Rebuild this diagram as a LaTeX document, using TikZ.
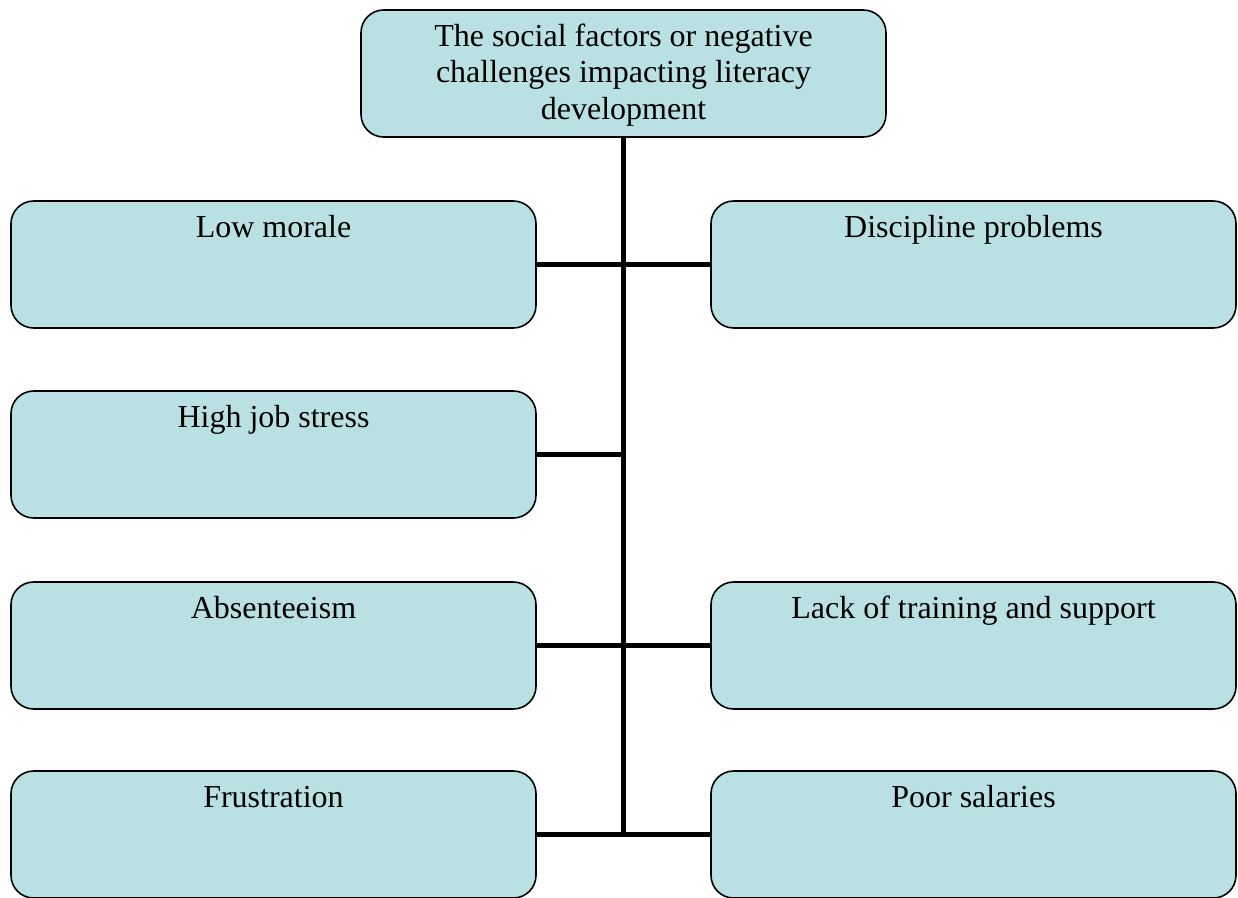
\documentclass[tikz,border=0pt]{standalone}
\usepackage{fontspec}
\setmainfont{Liberation Serif}
\definecolor{boxfill}{HTML}{B9E0E3}
\tikzset{
  box/.style={draw=black, line width=1.2pt, fill=boxfill, rounded corners=17pt,
    minimum width=393.75pt, minimum height=95.25pt, inner sep=0pt},
  boxtext/.style={anchor=base, inner sep=0pt, font=\fontsize{24pt}{27.6pt}\selectfont, align=center},
  conn/.style={line width=4pt, draw=black}
}
\begin{document}
\begin{tikzpicture}[x=0.75pt, y=-0.75pt]
\useasboundingbox (0,0) rectangle (1238,898);
% boxes
\node[box] (top) at (623.5,73.5) {};
\node[box] (lm) at (273.5,264.5) {};
\node[box] (dp) at (973.5,264.5) {};
\node[box] (hjs) at (273.5,454.5) {};
\node[box] (ab) at (273.5,645.5) {};
\node[box] (lt) at (973.5,645.5) {};
\node[box] (fr) at (273.5,834.5) {};
\node[box] (ps) at (973.5,834.5) {};
% texts
\node[boxtext] (ttop) at ([yshift=-82.95pt]top.north) {The social factors or negative\\challenges impacting literacy\\development};
\node[boxtext] (tlm) at ([yshift=-27.75pt]lm.north) {Low morale};
\node[boxtext] (tdp) at ([yshift=-27.75pt]dp.north) {Discipline problems};
\node[boxtext] (thjs) at ([yshift=-27.75pt]hjs.north) {High job stress};
\node[boxtext] (tab) at ([yshift=-27.75pt]ab.north) {Absenteeism};
\node[boxtext] (tlt) at ([yshift=-27.75pt]lt.north) {Lack of training and support};
\node[boxtext] (tfr) at ([yshift=-27.75pt]fr.north) {Frustration};
\node[boxtext] (tps) at ([yshift=-27.75pt]ps.north) {Poor salaries};
% connectors
\coordinate (trunkend) at (top.south |- fr.east);
\draw[conn] (top.south) -- ([yshift=-2pt]trunkend);
\draw[conn] (lm.east) -- (dp.west);
\draw[conn] (hjs.east) -- ([xshift=2pt]top.south |- hjs.east);
\draw[conn] (ab.east) -- (lt.west);
\draw[conn] (fr.east) -- (ps.west);
\end{tikzpicture}
\end{document}
